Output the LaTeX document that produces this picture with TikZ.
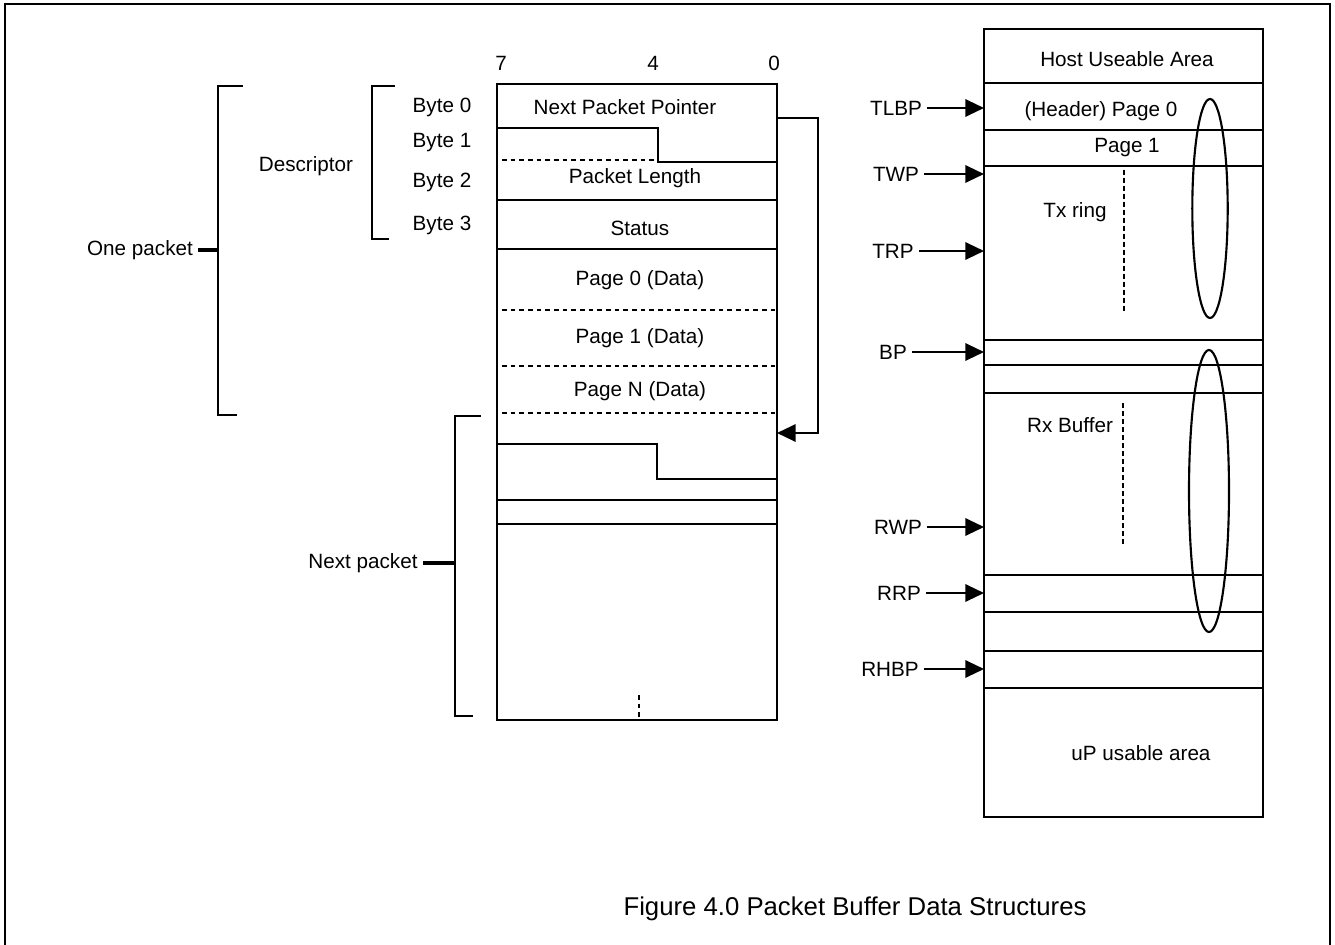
\documentclass[tikz,border=0pt]{standalone}
\usepackage{amsmath,amssymb}
\usepackage{fontspec}
\setmainfont{Liberation Sans}
\usetikzlibrary{arrows.meta}

\begin{document}
\begin{tikzpicture}[x=0.75pt,y=0.75pt,yscale=-1,xscale=1,
    line width=1.6pt,
    every node/.style={font=\fontsize{15.5}{18}\selectfont},
    ptr/.style={-{Triangle[length=14pt,width=13pt]}},
    stub/.style={line width=3.5pt},
    dashrow/.style={dash pattern=on 3.5pt off 3pt},
    dotcol/.style={line width=1.8pt,dash pattern=on 3.5pt off 2.5pt}]
    \useasboundingbox (0,0) rectangle (1335,945);

    %Frame
    \draw (5,945) -- (5,4) -- (1330,4) -- (1330,945) ;

    %Packet block
    \coordinate (pktTL) at (497,84);
    \coordinate (pktBR) at (777,720);
    \draw (pktTL) rectangle (pktBR) ;
    %Straight Lines
    \draw (497,128) -- (658,128) -- (658,162) -- (777,162) ;
    \draw [dashrow] (502,160) -- (658,160) ;
    \foreach \y in {200,249,500,524}
        \draw (497,\y) -- (777,\y) ;
    \foreach \y in {310,366,413}
        \draw [dashrow] (502,\y) -- (777,\y) ;
    \draw (497,444) -- (657,444) -- (657,479) -- (777,479) ;
    \draw [dashrow] (639,695) -- (639,720) ;

    %Next pointer loop
    \coordinate (nppOut) at (777,118);
    \coordinate (nxtIn) at (777,433);
    \draw [ptr] (nppOut) -- (818,118) -- (818,433) -- (nxtIn) ;

    % Text Node
    \node (bit7) at (501,63) {7};
    \node (bit4) at (653,63) {4};
    \node (bit0) at (774,63) {0};
    \node (npp) at (625,107) {Next Packet Pointer};
    \node (plen) at (635,178) {Packet Length};
    \node (status) at (640,228) {Status};
    \node (pg0) at (640,280) {Page 0 (Data)};
    \node (pg1) at (640,338) {Page 1 (Data)};
    \node (pgN) at (640,391) {Page N (Data)};
    \node (byte0) at (442,107) {Byte 0};
    \node (byte1) at (442,143) {Byte 1};
    \node (byte2) at (442,182) {Byte 2};
    \node (byte3) at (442,225) {Byte 3};

    %Brackets
    \node (desc) at (306,166) {Descriptor};
    \draw (395,86) -- (372,86) -- (372,239) -- (389,239) ;
    \node (onepkt) at (140,250) {One packet};
    \draw (243,86) -- (218,86) -- (218,415) -- (237,415) ;
    \coordinate (oneMid) at (218,250);
    \draw [stub] (onepkt) -- (oneMid) ;
    \node (nextpkt) at (363,563) {Next packet};
    \draw (481,416) -- (455,416) -- (455,716) -- (473,716) ;
    \coordinate (nextMid) at (455,563);
    \draw [stub] (nextpkt) -- (nextMid) ;

    %Buffer ring block
    \coordinate (ramTL) at (984,29);
    \coordinate (ramBR) at (1263,817);
    \draw (ramTL) rectangle (ramBR) ;
    \foreach \y in {83,130,166,340,365,393,575,612,651,688}
        \draw (984,\y) -- (1263,\y) ;
    \draw [dotcol] (1124,170) -- (1124,313) ;
    \draw [dotcol] (1123,403) -- (1123,546) ;
    \draw (1210,208.5) ellipse [x radius=17.7, y radius=109.5] ;
    \draw (1209,491) ellipse [x radius=20, y radius=141] ;

    % Text Node
    \node (host) at (1127,59) {Host Useable Area};
    \node (hdr) at (1101,111) {(Header) Page 0};
    \node (rpg1) at (1127,148) {Page 1};
    \node (txring) at (1075,212) {Tx ring};
    \node (rxbuf) at (1070,425) {Rx Buffer};
    \node (upArea) at (1141,753) {uP usable area};

    %Pointers
    \node (tlbp) at (896,108) {TLBP};
    \node (twp) at (896,174) {TWP};
    \node (trp) at (893,251) {TRP};
    \node (bp) at (893,352) {BP};
    \node (rwp) at (898,527) {RWP};
    \node (rrp) at (899,593) {RRP};
    \node (rhbp) at (890,669) {RHBP};
    \foreach \p in {tlbp,twp,trp,bp,rwp,rrp,rhbp}
        \draw [ptr] (\p) -- (\p -| ramTL) ;

    % Caption
    \node (caption) at (855,909) {\fontsize{19.3}{22}\selectfont Figure 4.0 Packet Buffer Data Structures};
\end{tikzpicture}
\end{document}
